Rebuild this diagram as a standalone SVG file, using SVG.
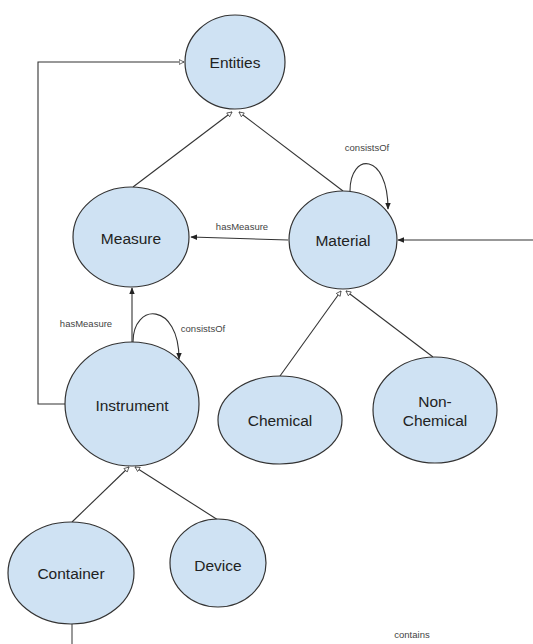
<svg xmlns="http://www.w3.org/2000/svg" width="533" height="644" viewBox="0 0 533 644">
<style>
.n{fill:#cfe2f3;stroke:#333;stroke-width:1.2}
.t{font-family:"Liberation Sans",Arial,sans-serif;font-size:15.5px;fill:#222;text-anchor:middle;dominant-baseline:central}
.l{font-family:"Liberation Sans",Arial,sans-serif;font-size:9.5px;fill:#444;text-anchor:middle;dominant-baseline:central}
.c{fill:none;stroke:#333;stroke-width:1.1}
</style>
<defs>
<marker id="open" viewBox="0 0 10 10" refX="9" refY="5" markerWidth="6" markerHeight="6" orient="auto" markerUnits="userSpaceOnUse">
<path d="M1,1 L9,5 L1,9 Z" fill="#fff" stroke="#333" stroke-width="1.2"/>
</marker>
<marker id="fill" viewBox="0 0 10 10" refX="9" refY="5" markerWidth="7" markerHeight="7" orient="auto" markerUnits="userSpaceOnUse">
<path d="M0,1 L10,5 L0,9 Z" fill="#222"/>
</marker>
</defs>
<g id="connectors">
<line class="c" x1="133" y1="187" x2="232" y2="112" marker-end="url(#open)"/>
<line class="c" x1="343" y1="191" x2="239" y2="112" marker-end="url(#open)"/>
<path class="c" d="M350,191 C350,152 388,152 388,209" marker-end="url(#fill)"/>
<line class="c" x1="288" y1="240" x2="191" y2="237" marker-end="url(#fill)"/>
<line class="c" x1="533" y1="240" x2="398" y2="240" marker-end="url(#fill)"/>
<line class="c" x1="132" y1="342" x2="132" y2="288" marker-end="url(#fill)"/>
<path class="c" d="M133,342 C133,302 179,302 179,359" marker-end="url(#fill)"/>
<polyline class="c" points="65,404 38,404 38,62 184,62" marker-end="url(#open)"/>
<line class="c" x1="280" y1="376" x2="341" y2="291" marker-end="url(#open)"/>
<line class="c" x1="433" y1="357" x2="346" y2="291" marker-end="url(#open)"/>
<line class="c" x1="72" y1="522" x2="129" y2="467" marker-end="url(#open)"/>
<line class="c" x1="218" y1="520" x2="135" y2="467" marker-end="url(#open)"/>
<line x1="72" y1="624" x2="72" y2="644" stroke="#555" stroke-width="1.2"/>
<text class="l" x="367" y="147">consistsOf</text>
<text class="l" x="242" y="226">hasMeasure</text>
<text class="l" x="86" y="323">hasMeasure</text>
<text class="l" x="203" y="328">consistsOf</text>
<text class="l" x="412" y="634">contains</text>
</g>
<g id="entities"><ellipse class="n" cx="235" cy="62" rx="50" ry="47"/><text class="t" x="235" y="62">Entities</text></g>
<g id="measure"><ellipse class="n" cx="131" cy="237" rx="58" ry="50"/><text class="t" x="131" y="238">Measure</text></g>
<g id="material"><ellipse class="n" cx="343" cy="240" rx="54" ry="49"/><text class="t" x="343" y="240">Material</text></g>
<g id="instrument"><ellipse class="n" cx="132" cy="404" rx="67" ry="62"/><text class="t" x="132" y="405">Instrument</text></g>
<g id="chemical"><ellipse class="n" cx="280" cy="420" rx="62" ry="44"/><text class="t" x="280" y="420">Chemical</text></g>
<g id="non-chemical"><ellipse class="n" cx="435" cy="410" rx="62" ry="53"/><text class="t" x="435" y="401">Non-</text><text class="t" x="435" y="420">Chemical</text></g>
<g id="container"><ellipse class="n" cx="71" cy="573" rx="63" ry="51"/><text class="t" x="71" y="573">Container</text></g>
<g id="device"><ellipse class="n" cx="218" cy="563" rx="48" ry="44"/><text class="t" x="218" y="565">Device</text></g>
</svg>
